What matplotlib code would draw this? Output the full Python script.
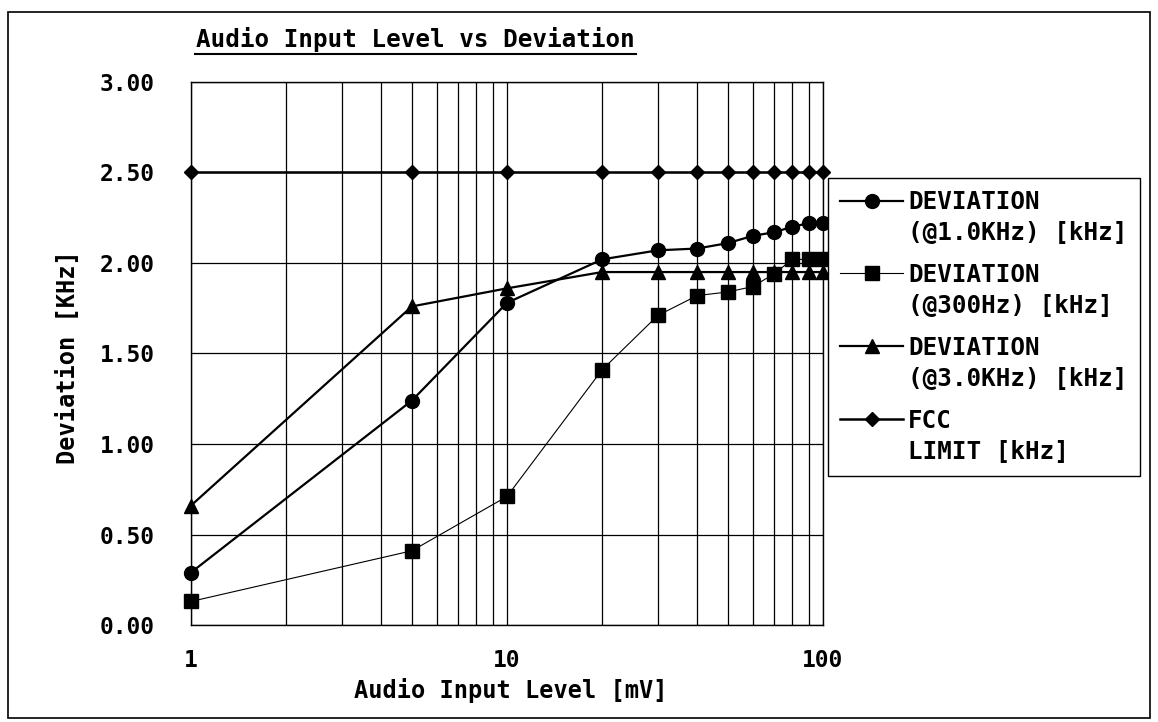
import matplotlib
matplotlib.use("Agg")
import matplotlib.pyplot as plt
from matplotlib.ticker import FixedLocator, FixedFormatter, NullFormatter, LogLocator
from matplotlib.patches import Rectangle
from matplotlib.lines import Line2D

plt.rcParams['font.family'] = ['DejaVu Sans Mono', 'DejaVu Sans']
plt.rcParams['font.weight'] = 'bold'
plt.rcParams['axes.labelweight'] = 'bold'

# Dados
nivel = [1, 5, 10, 20, 30, 40, 50, 60, 70, 80, 90, 100]                       # Audio input level [mV]
dev_1k = [0.29, 1.24, 1.78, 2.02, 2.07, 2.08, 2.11, 2.15, 2.17, 2.20, 2.22, 2.22]
dev_300 = [0.13, 0.41, 0.71, 1.41, 1.71, 1.82, 1.84, 1.87, 1.94, 2.02, 2.02, 2.02]
dev_3k = [0.66, 1.76, 1.86, 1.95, 1.95, 1.95, 1.95, 1.95, 1.95, 1.95, 1.95, 1.95]
fcc = [2.50, 2.50, 2.50, 2.50, 2.50, 2.50, 2.50, 2.50, 2.50, 2.50, 2.50, 2.50]

rotulos = ["DEVIATION\n(@1.0KHz) [kHz]", "DEVIATION\n(@300Hz) [kHz]",
           "DEVIATION\n(@3.0KHz) [kHz]", "FCC\nLIMIT [kHz]"]
yticks = [0.0, 0.5, 1.0, 1.5, 2.0, 2.5, 3.0]
xticks = [1, 10, 100]

W, H = 1158, 722
fig = plt.figure(figsize=(W / 100, H / 100), dpi=100)
ax = fig.add_axes([191 / W, 1 - 625 / H, (823 - 191) / W, (625 - 82) / H])

ax.plot(nivel, fcc, color='black', lw=1.8, marker='D', ms=7, label=rotulos[3], zorder=3, clip_on=False)
ax.plot(nivel, dev_1k, color='black', lw=1.6, marker='o', ms=10, label=rotulos[0], zorder=4, clip_on=False)
ax.plot(nivel, dev_300, color='black', lw=0.8, marker='s', ms=9.5, label=rotulos[1], zorder=4, clip_on=False)
ax.plot(nivel, dev_3k, color='black', lw=1.6, marker='^', ms=10, label=rotulos[2], zorder=4, clip_on=False)

ax.set_xscale('log')
ax.set_xlim(1, 100)
ax.set_ylim(0, 3.0)
ax.xaxis.set_major_locator(FixedLocator(xticks))
ax.xaxis.set_major_formatter(FixedFormatter([str(v) for v in xticks]))
ax.xaxis.set_minor_locator(LogLocator(base=10, subs=range(2, 10)))
ax.xaxis.set_minor_formatter(NullFormatter())
ax.yaxis.set_major_locator(FixedLocator(yticks))
ax.yaxis.set_major_formatter(FixedFormatter(["%.2f" % v for v in yticks]))
ax.grid(True, which='both', color='black', lw=0.9)
ax.tick_params(which='both', length=0, labelsize=16.5)
ax.tick_params(axis='y', pad=26)
ax.tick_params(axis='x', pad=17)
for s in ax.spines.values():
    s.set_linewidth(1.0)
    s.set_color('black')

ax.set_xlabel("Audio Input Level [mV]", fontsize=17)
ax.set_ylabel("Deviation [KHz]", fontsize=17)
ax.xaxis.set_label_coords(0.506, -0.097)
ax.yaxis.set_label_coords(-0.176, 0.494)

# Legenda com o marcador na primeira linha do texto
h, l = ax.get_legend_handles_labels()
ordem = [1, 2, 3, 0]
leg = ax.legend([h[i] for i in ordem], [l[i] for i in ordem], loc='upper left',
                bbox_to_anchor=(1.008, 0.823), borderaxespad=0, fontsize=17.5,
                handlelength=2.6, handletextpad=0.2, borderpad=0.5, labelspacing=0.75,
                fancybox=False, edgecolor='black', framealpha=1)
leg.get_frame().set_linewidth(1.0)
for t in leg.get_texts():
    t.set_linespacing(1.35)
for hd in leg.legend_handles:
    hd.set_ydata(hd.get_ydata() + 13)

# Titulo sublinhado
fig.text(196 / W, 1 - 40 / H, "Audio Input Level vs Deviation", fontsize=17.5, va='center', ha='left')
fig.add_artist(Line2D([195 / W, 636 / W], [1 - 54 / H, 1 - 54 / H], color='black', lw=1.5))

# Moldura externa
fig.add_artist(Rectangle((8 / W, 4 / H), (1150 - 8) / W, (710 - 4) / H, transform=fig.transFigure,
                         fill=False, edgecolor='black', lw=1.2))

fig.savefig("out.png", dpi=100)
